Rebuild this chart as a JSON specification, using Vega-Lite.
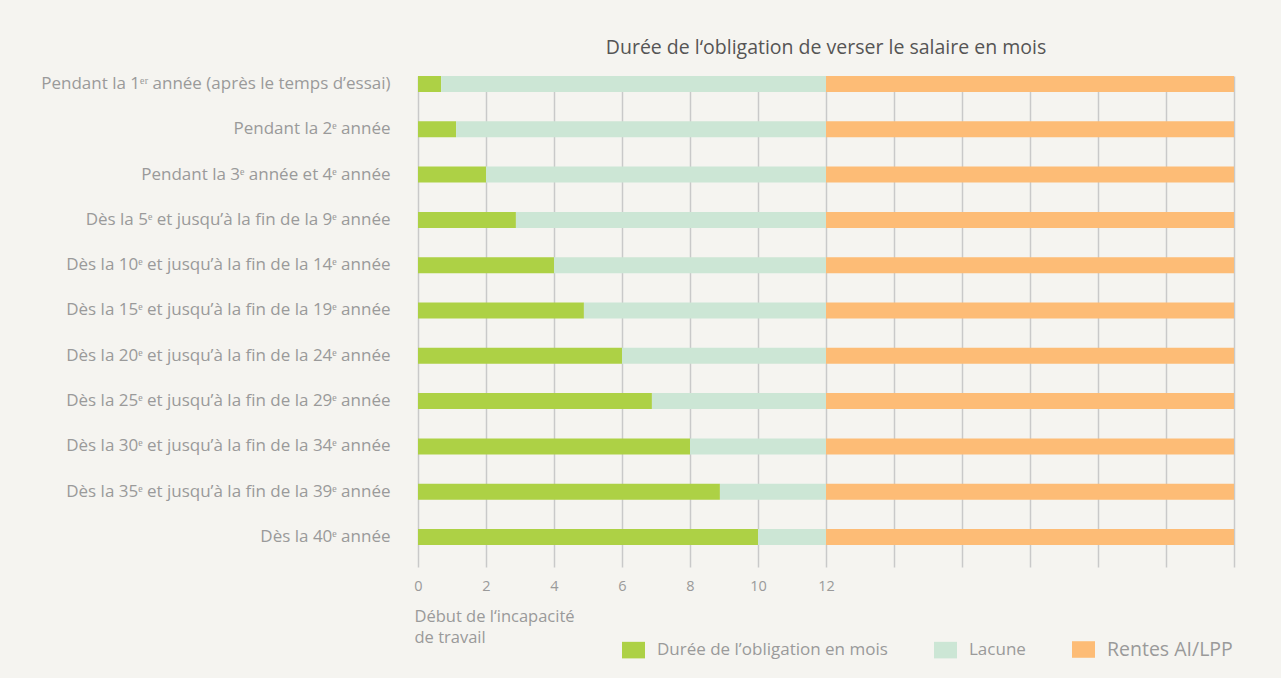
{
  "$schema": "https://vega.github.io/schema/vega-lite/v6.json",
  "width": 816,
  "height": 491,
  "autosize": {"type": "none"},
  "padding": {"left": 418, "top": 76, "right": 47, "bottom": 111},
  "background": "#f5f4f0",
  "title": {
    "text": "Durée de l‘obligation de verser le salaire en mois",
    "anchor": "middle",
    "frame": "group",
    "fontSize": 19.5,
    "fontWeight": "normal",
    "color": "#555555",
    "font": "Open Sans",
    "offset": 16
  },
  "config": {
    "view": {"stroke": null},
    "font": "Open Sans"
  },
  "data": {
    "values": [
      {"cat": "Pendant la 1ᵉʳ année (après le temps d’essai)", "seg": "Durée de l’obligation en mois", "start": 0, "end": 0.68},
      {"cat": "Pendant la 1ᵉʳ année (après le temps d’essai)", "seg": "Lacune", "start": 0.68, "end": 12},
      {"cat": "Pendant la 1ᵉʳ année (après le temps d’essai)", "seg": "Rentes AI/LPP", "start": 12, "end": 24},
      {"cat": "Pendant la 2ᵉ année", "seg": "Durée de l’obligation en mois", "start": 0, "end": 1.12},
      {"cat": "Pendant la 2ᵉ année", "seg": "Lacune", "start": 1.12, "end": 12},
      {"cat": "Pendant la 2ᵉ année", "seg": "Rentes AI/LPP", "start": 12, "end": 24},
      {"cat": "Pendant la 3ᵉ année et 4ᵉ année", "seg": "Durée de l’obligation en mois", "start": 0, "end": 2},
      {"cat": "Pendant la 3ᵉ année et 4ᵉ année", "seg": "Lacune", "start": 2, "end": 12},
      {"cat": "Pendant la 3ᵉ année et 4ᵉ année", "seg": "Rentes AI/LPP", "start": 12, "end": 24},
      {"cat": "Dès la 5ᵉ et jusqu’à la fin de la 9ᵉ année", "seg": "Durée de l’obligation en mois", "start": 0, "end": 2.88},
      {"cat": "Dès la 5ᵉ et jusqu’à la fin de la 9ᵉ année", "seg": "Lacune", "start": 2.88, "end": 12},
      {"cat": "Dès la 5ᵉ et jusqu’à la fin de la 9ᵉ année", "seg": "Rentes AI/LPP", "start": 12, "end": 24},
      {"cat": "Dès la 10ᵉ et jusqu’à la fin de la 14ᵉ année", "seg": "Durée de l’obligation en mois", "start": 0, "end": 4},
      {"cat": "Dès la 10ᵉ et jusqu’à la fin de la 14ᵉ année", "seg": "Lacune", "start": 4, "end": 12},
      {"cat": "Dès la 10ᵉ et jusqu’à la fin de la 14ᵉ année", "seg": "Rentes AI/LPP", "start": 12, "end": 24},
      {"cat": "Dès la 15ᵉ et jusqu’à la fin de la 19ᵉ année", "seg": "Durée de l’obligation en mois", "start": 0, "end": 4.88},
      {"cat": "Dès la 15ᵉ et jusqu’à la fin de la 19ᵉ année", "seg": "Lacune", "start": 4.88, "end": 12},
      {"cat": "Dès la 15ᵉ et jusqu’à la fin de la 19ᵉ année", "seg": "Rentes AI/LPP", "start": 12, "end": 24},
      {"cat": "Dès la 20ᵉ et jusqu’à la fin de la 24ᵉ année", "seg": "Durée de l’obligation en mois", "start": 0, "end": 6},
      {"cat": "Dès la 20ᵉ et jusqu’à la fin de la 24ᵉ année", "seg": "Lacune", "start": 6, "end": 12},
      {"cat": "Dès la 20ᵉ et jusqu’à la fin de la 24ᵉ année", "seg": "Rentes AI/LPP", "start": 12, "end": 24},
      {"cat": "Dès la 25ᵉ et jusqu’à la fin de la 29ᵉ année", "seg": "Durée de l’obligation en mois", "start": 0, "end": 6.88},
      {"cat": "Dès la 25ᵉ et jusqu’à la fin de la 29ᵉ année", "seg": "Lacune", "start": 6.88, "end": 12},
      {"cat": "Dès la 25ᵉ et jusqu’à la fin de la 29ᵉ année", "seg": "Rentes AI/LPP", "start": 12, "end": 24},
      {"cat": "Dès la 30ᵉ et jusqu’à la fin de la 34ᵉ année", "seg": "Durée de l’obligation en mois", "start": 0, "end": 8},
      {"cat": "Dès la 30ᵉ et jusqu’à la fin de la 34ᵉ année", "seg": "Lacune", "start": 8, "end": 12},
      {"cat": "Dès la 30ᵉ et jusqu’à la fin de la 34ᵉ année", "seg": "Rentes AI/LPP", "start": 12, "end": 24},
      {"cat": "Dès la 35ᵉ et jusqu’à la fin de la 39ᵉ année", "seg": "Durée de l’obligation en mois", "start": 0, "end": 8.88},
      {"cat": "Dès la 35ᵉ et jusqu’à la fin de la 39ᵉ année", "seg": "Lacune", "start": 8.88, "end": 12},
      {"cat": "Dès la 35ᵉ et jusqu’à la fin de la 39ᵉ année", "seg": "Rentes AI/LPP", "start": 12, "end": 24},
      {"cat": "Dès la 40ᵉ année", "seg": "Durée de l’obligation en mois", "start": 0, "end": 10},
      {"cat": "Dès la 40ᵉ année", "seg": "Lacune", "start": 10, "end": 12},
      {"cat": "Dès la 40ᵉ année", "seg": "Rentes AI/LPP", "start": 12, "end": 24}
    ]
  },
  "mark": {"type": "bar"},
  "encoding": {
    "y": {
      "field": "cat",
      "type": "nominal",
      "sort": null,
      "scale": {"paddingInner": 0.647, "paddingOuter": 0.243, "align": 0},
      "axis": {
        "title": null,
        "domain": false,
        "ticks": false,
        "labelFontSize": 17,
        "labelColor": "#9a9a9a",
        "labelPadding": 28,
        "labelLimit": 0
      }
    },
    "x": {
      "field": "start",
      "type": "quantitative",
      "scale": {"domain": [0, 24], "nice": false, "zero": false},
      "axis": {
        "values": [0, 2, 4, 6, 8, 10, 12, 14, 16, 18, 20, 22, 24],
        "labelExpr": "datum.value <= 12 ? datum.label : ''",
        "domain": false,
        "ticks": false,
        "grid": true,
        "gridColor": "#c9c9c9",
        "gridWidth": 1.5,
        "labelFontSize": 14.5,
        "labelColor": "#9a9a9a",
        "labelPadding": 12,
        "labelFlush": false,
        "title": ["Début de l‘incapacité", "de travail"],
        "titleAnchor": "start",
        "titleAlign": "left",
        "titleX": -4,
        "titleFontSize": 16.5,
        "titleFontWeight": "normal",
        "titleColor": "#9a9a9a",
        "titleLineHeight": 21,
        "titlePadding": 16
      }
    },
    "x2": {"field": "end"},
    "color": {
      "field": "seg",
      "type": "nominal",
      "scale": {
        "domain": ["Durée de l’obligation en mois", "Lacune", "Rentes AI/LPP"],
        "range": ["#add145", "#cce6d5", "#fdbc76"]
      },
      "legend": {
        "orient": "none",
        "direction": "horizontal",
        "legendX": 204,
        "legendY": 562,
        "title": null,
        "padding": 0,
        "symbolType": "M-1,-0.72H1V0.72H-1Z",
        "symbolSize": 529,
        "symbolStrokeWidth": 0,
        "symbolOpacity": 1,
        "labelOffset": 12,
        "columnPadding": 46,
        "labelFontSize": 17,
        "labelColor": "#9a9a9a",
        "labelLimit": 0,
        "encode": {
          "labels": {"update": {"fontSize": {"signal": "datum.label === 'Rentes AI/LPP' ? 19.5 : 17"}}}
        }
      }
    }
  }
}
